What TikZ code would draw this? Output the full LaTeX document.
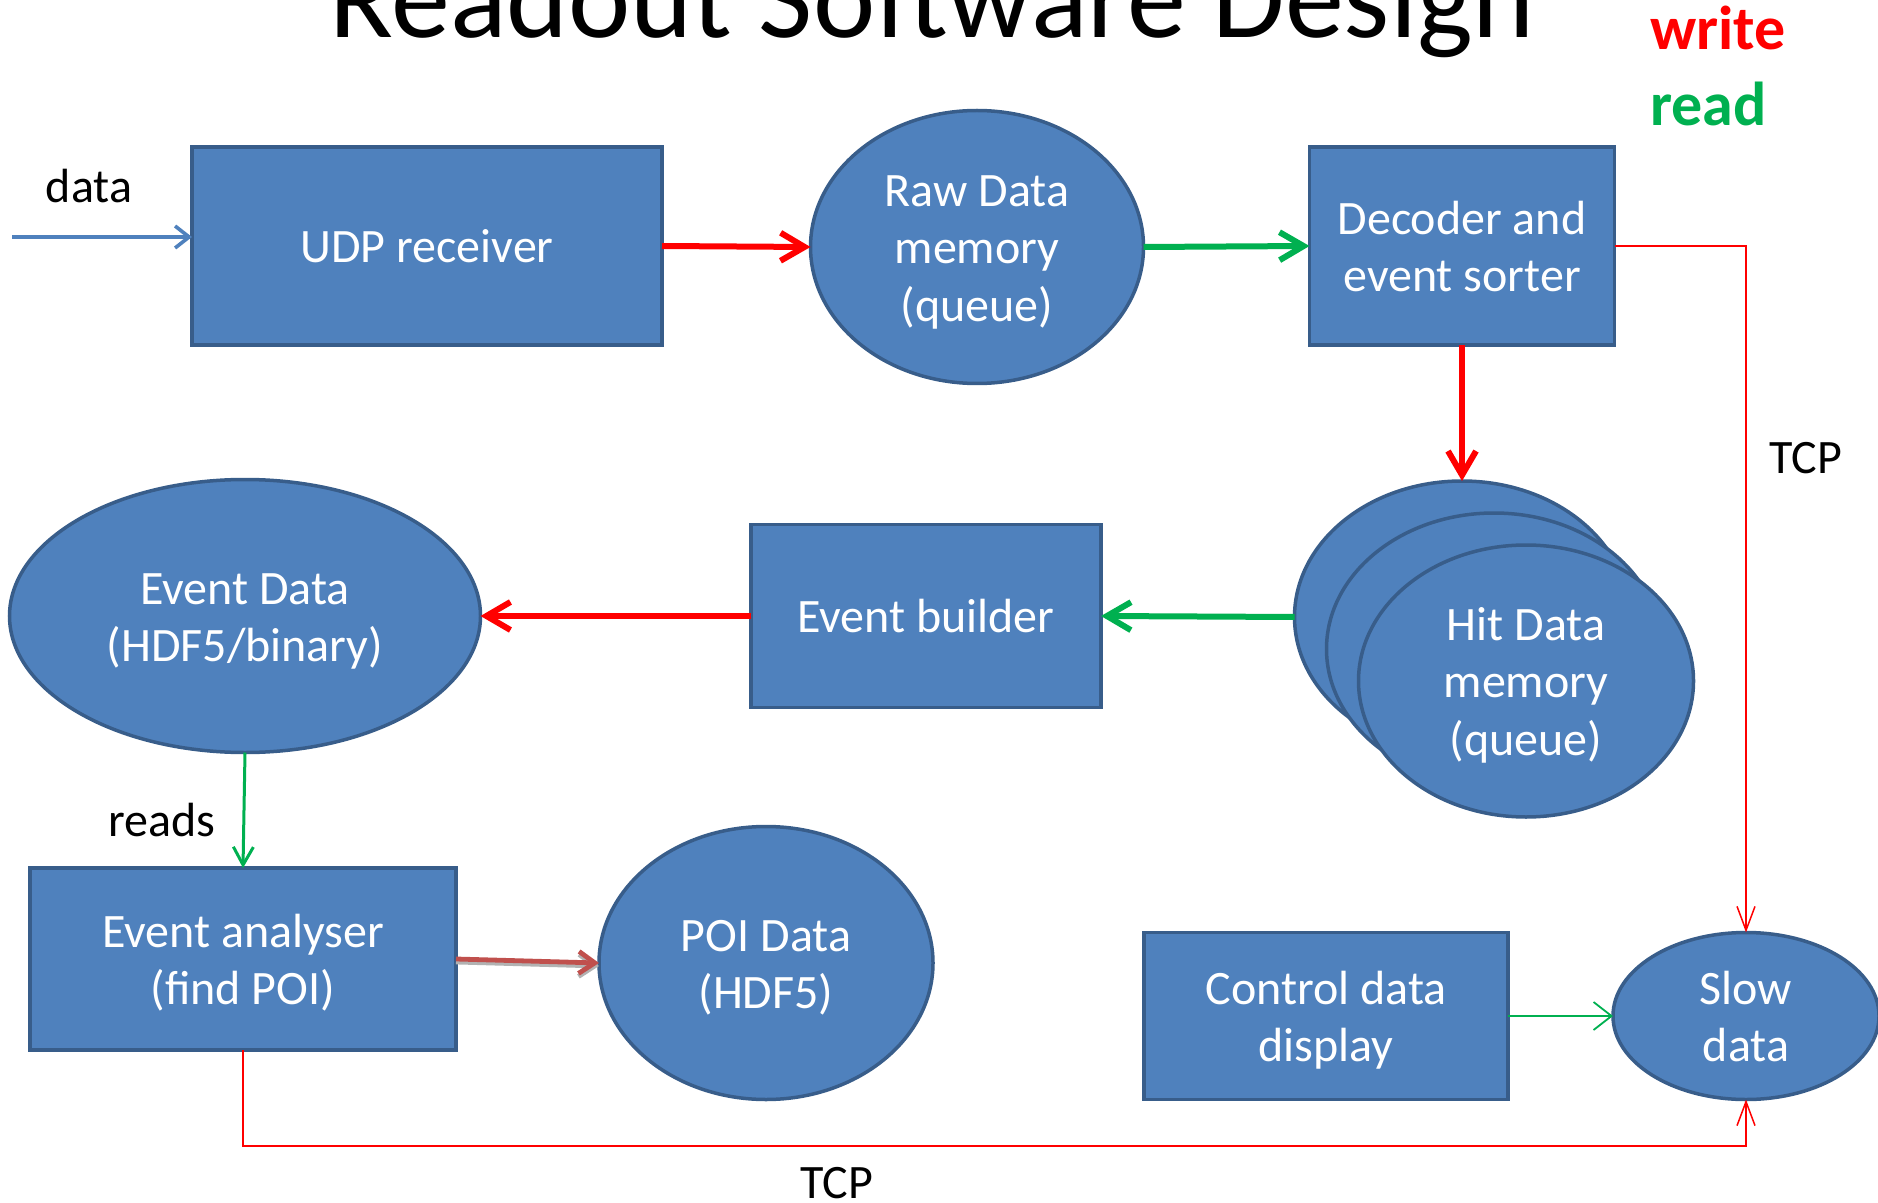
\documentclass[tikz,border=0pt]{standalone}
\usepackage{fontspec}
\setmainfont{Carlito}
\usetikzlibrary{shapes.geometric,arrows.meta}
\definecolor{boxfill}{HTML}{4F81BD}
\definecolor{boxline}{HTML}{385D8A}
\definecolor{wred}{HTML}{FF0000}
\definecolor{rgreen}{HTML}{00B050}
\definecolor{poired}{HTML}{C0504D}
% fixed line box so that every text block is centred by its lines, not its glyphs;
% it goes at the start of the first line and (via the style) after the last one
\newcommand{\linebox}{\rule[-6pt]{0pt}{28.8pt}}
\tikzset{
  every node/.style={inner sep=0pt, outer sep=0pt},
  body/.style={font=\fontsize{24}{28.75}\selectfont},
  boxtext/.style={text=white, align=center, body, execute at end node=\linebox},
  procbox/.style={rectangle, draw=boxline, fill=boxfill, line width=1.75pt, boxtext},
  store/.style={ellipse, draw=boxline, fill=boxfill, line width=1.75pt, boxtext},
  label/.style={body, text=black},
  bigwrite/.style={draw=wred, line width=3pt,
                   -{Straight Barb[length=12pt,width=14pt,line width=3pt]}},
  bigread/.style={draw=rgreen, line width=3pt,
                  -{Straight Barb[length=12pt,width=14pt,line width=3pt]}},
  thinwrite/.style={draw=wred, line width=0.75pt,
                    -{Straight Barb[length=12pt,width=9pt,line width=0.75pt]}},
  thinread/.style={draw=rgreen, line width=0.9pt,
                   -{Straight Barb[length=9pt,width=14pt,line width=0.9pt]}},
}
\begin{document}
\begin{tikzpicture}[x=0.5pt,y=-0.5pt]
\useasboundingbox (0,0) rectangle (1878,1203);

% title and legend
\node[anchor=base, font=\fontsize{59}{70}\selectfont] (title) at (932,38) {Readout Software Design};
\node[anchor=base west, font=\fontsize{31}{36}\selectfont\bfseries, text=wred] (lgwrite) at (1650,50) {write};
\node[anchor=base west, font=\fontsize{31}{36}\selectfont\bfseries, text=rgreen] (lgread) at (1650,126) {read};

% processing stages
\node[procbox, minimum width=235pt, minimum height=99pt] (udp) at (427,246) {UDP receiver};
\node[procbox, minimum width=152.5pt, minimum height=99pt] (dec) at (1462,246) {\linebox Decoder and\\event sorter};
\node[procbox, minimum width=175pt, minimum height=91.5pt] (eb) at (926,616) {Event builder};
\node[procbox, minimum width=213pt, minimum height=91pt] (ea) at (243,959) {\linebox Event analyser\\(find POI)};
\node[procbox, minimum width=182pt, minimum height=83.5pt] (cd) at (1326,1016) {\linebox Control data\\display};

% data stores
\node[store, minimum width=166.5pt, minimum height=136.5pt] (raw) at (977,247) {\linebox Raw Data\\memory\\(queue)};
\node[store, minimum width=167.5pt, minimum height=136pt] (hit1) at (1462,617) {};
\node[store, minimum width=167.5pt, minimum height=136pt] (hit2) at (1494,649) {};
\node[store, minimum width=167.5pt, minimum height=136pt] (hit3) at (1526,681) {\linebox Hit Data\\memory\\(queue)};
\node[store, minimum width=235.5pt, minimum height=136.5pt] (ed) at (245,616) {\linebox Event Data\\(HDF5/binary)};
\node[store, minimum width=167pt, minimum height=136.5pt] (poi) at (766,963) {\linebox POI Data\\(HDF5)};
\node[store, minimum width=133pt, minimum height=83.5pt] (slow) at (1746,1016) {\linebox Slow\\data};

% free labels
\node[label, anchor=base west] (datalbl) at (46,203) {data};
\node[label, anchor=base west] (readslbl) at (108,836) {reads};
\node[label, anchor=base west] (tcpright) at (1769,473) {TCP};
\node[label, anchor=base west] (tcpbottom) at (800,1198) {TCP};

% incoming UDP stream
\coordinate (datain) at (12,237);
\draw[draw=boxfill, line width=1.8pt,
      -{Straight Barb[length=7pt,width=11pt,line width=1.8pt]}]
  (datain) -- (udp.west |- datain);

% main data path
\draw[bigwrite] (udp.east) -- (raw.west);
\draw[bigread] (raw.east) -- (dec.west);
\draw[bigwrite] (dec.south) -- (hit1.north);
\draw[bigread] (hit1.west) -- (eb.east);
\draw[bigwrite] (eb.west) -- (ed.east);
\draw[draw=rgreen, line width=1.5pt,
      -{Straight Barb[length=9pt,width=10pt,line width=1.5pt]}]
  (ed.south) -- (ea.north);
\draw[draw=poired, line width=2.4pt,
      preaction={draw=gray!60, line width=2.4pt, transform canvas={yshift=-1.5pt}},
      -{Straight Barb[length=8pt,width=11pt,line width=2.4pt]}]
  (ea.east) -- (poi.west);

% slow-control links
\draw[thinwrite] (dec.east) -| (slow.north);
\coordinate (tcpbend) at (243,1146);
\draw[thinwrite] (ea.south) -- (tcpbend) -| (slow.south);
\draw[thinread] (cd.east) -- (slow.west);
\end{tikzpicture}
\end{document}
